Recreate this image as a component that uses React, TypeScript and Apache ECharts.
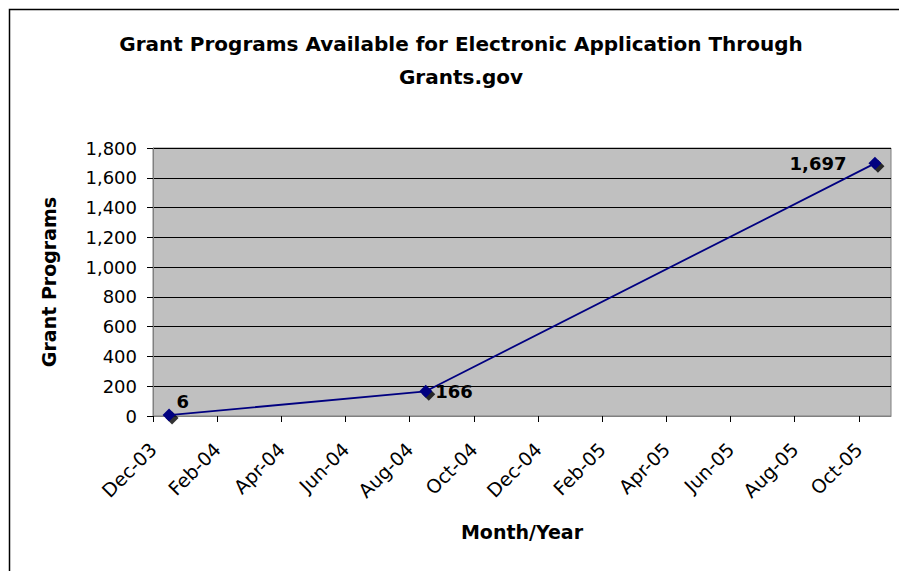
import React, { useEffect, useRef } from "react";
import * as echarts from "echarts";

// ---- Data ----
const pointDates = ["2003-12", "2004-08", "2005-10"];
const grantPrograms = [6, 166, 1697];
const tickLabels = [
  "Dec-03", "Feb-04", "Apr-04", "Jun-04", "Aug-04", "Oct-04",
  "Dec-04", "Feb-05", "Apr-05", "Jun-05", "Aug-05", "Oct-05",
];
const axisStart = "2003-12";
const axisEnd = "2005-11";
const yTicks = [0, 200, 400, 600, 800, 1000, 1200, 1400, 1600, 1800];

const monthIndex = (d: string) => {
  const [y, m] = d.split("-").map(Number);
  const [y0, m0] = axisStart.split("-").map(Number);
  return (y - y0) * 12 + (m - m0);
};

const FONT = "DejaVu Sans";

export default function App() {
  const ref = useRef<HTMLDivElement>(null);
  useEffect(() => {
    if (!ref.current) return;
    const chart = echarts.init(ref.current, undefined, { renderer: "svg" });
    const xs = pointDates.map((d) => monthIndex(d) + 0.5);
    const labelCfgs = [
      { position: "right", offset: [-4, -14] },
      { position: "right", distance: 3 },
      { position: "left", distance: 22 },
    ];
    const lineData = xs.map((x, i) => ({
      value: [x, grantPrograms[i]],
      label: labelCfgs[i],
    }));
    const shadowData = xs.map((x, i) => [x, grantPrograms[i]]);
    const tickVals = tickLabels.map((_, i) => i * 2);

    chart.setOption({
      animation: false,
      title: {
        text: "Grant Programs Available for Electronic Application Through\nGrants.gov",
        left: 456,
        top: 22,
        textAlign: "center",
        textStyle: {
          fontFamily: FONT,
          fontWeight: "bold",
          fontSize: 20,
          lineHeight: 33,
          color: "#000",
        },
      },
      graphic: [
        {
          type: "rect",
          shape: { x: 9.5, y: 9.5, width: 1000, height: 1000 },
          style: { fill: "none", stroke: "#000", lineWidth: 1.5 },
          silent: true,
        },
      ],
      grid: {
        left: 153,
        top: 148,
        width: 738,
        height: 268,
        show: true,
        backgroundColor: "#C0C0C0",
        borderColor: "#808080",
        borderWidth: 1,
      },
      xAxis: {
        type: "value",
        min: 0,
        max: monthIndex(axisEnd),
        interval: 2,
        name: "Month/Year",
        nameLocation: "middle",
        nameGap: 106,
        nameTextStyle: {
          fontFamily: FONT,
          fontWeight: "bold",
          fontSize: 19,
          color: "#000",
        },
        splitLine: { show: false },
        axisLine: { show: true, lineStyle: { color: "#808080", width: 1 } },
        axisTick: {
          show: true,
          length: 6,
          customValues: tickVals,
          lineStyle: { color: "#000" },
        },
        axisLabel: {
          customValues: tickVals,
          rotate: 45,
          margin: 30,
          fontFamily: FONT,
          fontSize: 19,
          color: "#000",
          formatter: (v: number) => tickLabels[Math.round(v / 2)] ?? "",
        },
      },
      yAxis: {
        type: "value",
        min: yTicks[0],
        max: yTicks[yTicks.length - 1],
        interval: 200,
        name: "Grant Programs",
        nameLocation: "middle",
        nameGap: 95,
        nameRotate: 90,
        nameTextStyle: {
          fontFamily: FONT,
          fontWeight: "bold",
          fontSize: 19,
          color: "#000",
        },
        axisLine: { show: true, lineStyle: { color: "#808080", width: 1 } },
        axisTick: { show: true, length: 6, lineStyle: { color: "#000" } },
        splitLine: { show: true, lineStyle: { color: "#000", width: 1 } },
        axisLabel: {
          margin: 16,
          fontFamily: FONT,
          fontSize: 18,
          color: "#000",
          formatter: (v: number) => v.toLocaleString("en-US"),
        },
      },
      series: [
        {
          type: "scatter",
          data: shadowData,
          symbol: "diamond",
          symbolSize: 13,
          symbolOffset: [3, 3],
          itemStyle: { color: "#000" },
          z: 1,
          silent: true,
        },
        {
          type: "line",
          data: lineData,
          symbol: "diamond",
          symbolSize: 13,
          showAllSymbol: true,
          lineStyle: { color: "#000080", width: 1.8 },
          itemStyle: { color: "#000080" },
          z: 2,
          label: {
            show: true,
            fontFamily: FONT,
            fontWeight: "bold",
            fontSize: 18,
            color: "#000",
            formatter: (p: any) => Number(p.value[1]).toLocaleString("en-US"),
          },
        },
      ],
    });
    return () => chart.dispose();
  }, []);
  return (
    <div
      ref={ref}
      style={{ position: "fixed", left: 0, top: 0, width: 899, height: 571, background: "#fff" }}
    />
  );
}
